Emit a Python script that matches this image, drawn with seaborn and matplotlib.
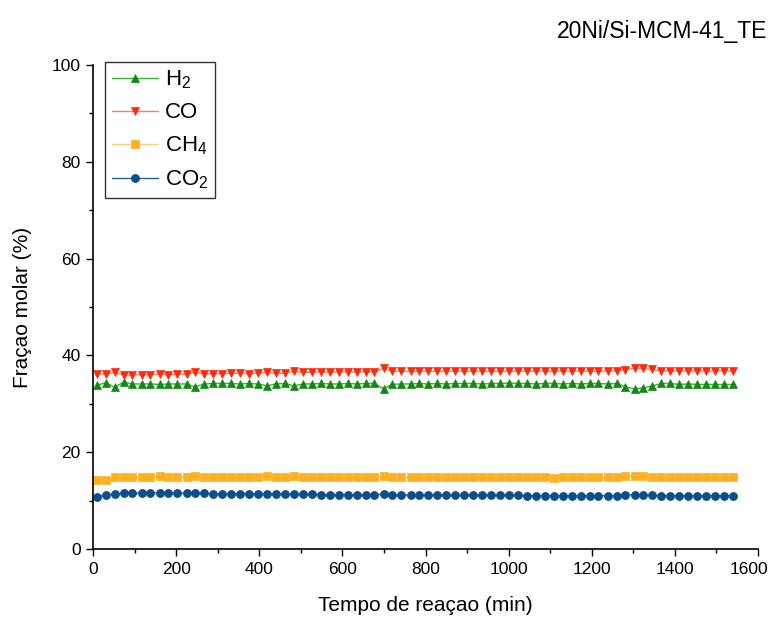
import numpy as np
import pandas as pd
import matplotlib
matplotlib.use("Agg")
import matplotlib.pyplot as plt
import matplotlib.transforms as mtransforms
import seaborn as sns

# ---- data ----
tempo = [9, 31, 52, 74, 95, 117, 138, 160, 181, 203, 225, 246, 268, 289, 311, 332,
         354, 376, 397, 419, 440, 462, 483, 505, 526, 548, 570, 591, 613, 634, 656, 677,
         699, 720, 742, 764, 785, 807, 828, 850, 871, 893, 915, 936, 958, 979, 1001, 1022,
         1044, 1065, 1087, 1109, 1130, 1152, 1173, 1195, 1216, 1238, 1260, 1281, 1303, 1324,
         1346, 1367, 1389, 1410, 1432, 1454, 1475, 1497, 1518, 1540]

h2 = [33.8, 34.4, 33.4, 34.5, 34.1, 34.1, 34.1, 34.0, 34.1, 34.1, 34.1, 33.5,
      34.1, 34.2, 34.2, 34.2, 34.1, 34.2, 34.1, 33.7, 34.1, 34.2, 33.7, 34.1,
      34.1, 34.2, 34.1, 34.1, 34.2, 34.1, 34.2, 34.2, 33.1, 34.0, 34.1, 34.1,
      34.2, 34.1, 34.2, 34.1, 34.2, 34.2, 34.2, 34.1, 34.2, 34.2, 34.3, 34.2,
      34.2, 34.1, 34.2, 34.2, 34.1, 34.2, 34.1, 34.2, 34.2, 34.1, 34.2, 33.5,
      33.1, 33.3, 33.7, 34.2, 34.2, 34.0, 34.1, 34.0, 34.0, 34.0, 34.0, 34.0]

co = [36.2, 36.1, 36.5, 35.9, 36.0, 36.0, 36.0, 36.1, 36.0, 36.1, 36.1, 36.5,
      36.2, 36.2, 36.2, 36.3, 36.3, 36.2, 36.3, 36.5, 36.3, 36.3, 36.7, 36.5,
      36.5, 36.6, 36.5, 36.6, 36.6, 36.6, 36.6, 36.6, 37.3, 36.7, 36.7, 36.7,
      36.7, 36.7, 36.7, 36.7, 36.7, 36.7, 36.7, 36.7, 36.7, 36.7, 36.7, 36.7,
      36.7, 36.8, 36.7, 36.7, 36.8, 36.7, 36.8, 36.7, 36.7, 36.8, 36.8, 37.0,
      37.4, 37.3, 37.1, 36.8, 36.8, 36.8, 36.8, 36.8, 36.8, 36.8, 36.8, 36.8]

ch4 = [14.2, 14.3, 14.8, 14.9, 14.9, 14.9, 14.9, 15.0, 14.9, 14.9, 14.9, 15.1,
       14.9, 14.9, 14.9, 14.9, 14.9, 14.9, 14.9, 15.1, 14.9, 14.9, 15.0, 14.9,
       14.8, 14.9, 14.9, 14.8, 14.9, 14.9, 14.8, 14.8, 15.1, 14.8, 14.8, 14.8,
       14.8, 14.8, 14.8, 14.8, 14.8, 14.8, 14.8, 14.8, 14.8, 14.8, 14.8, 14.8,
       14.8, 14.8, 14.8, 14.7, 14.8, 14.8, 14.8, 14.8, 14.8, 14.8, 14.8, 15.0,
       15.0, 15.0, 14.9, 14.8, 14.8, 14.8, 14.8, 14.8, 14.8, 14.8, 14.8, 14.8]

co2 = [10.8, 11.1, 11.4, 11.5, 11.5, 11.6, 11.6, 11.6, 11.6, 11.6, 11.5, 11.5,
       11.5, 11.4, 11.4, 11.4, 11.4, 11.4, 11.3, 11.3, 11.3, 11.3, 11.3, 11.3,
       11.3, 11.2, 11.2, 11.2, 11.2, 11.2, 11.2, 11.2, 11.3, 11.2, 11.2, 11.1,
       11.1, 11.1, 11.1, 11.1, 11.1, 11.1, 11.1, 11.1, 11.1, 11.1, 11.1, 11.1,
       11.0, 11.0, 11.0, 11.0, 11.0, 11.0, 11.0, 11.0, 11.0, 11.0, 11.0, 11.2,
       11.2, 11.2, 11.1, 11.0, 11.0, 11.0, 11.0, 11.0, 11.0, 11.0, 11.0, 11.0]

labels = ["H$_2$", "CO", "CH$_4$", "CO$_2$"]
title = "20Ni/Si-MCM-41_TE"
xlabel = "Tempo de reaçao (min)"
ylabel = "Fraçao molar (%)"

# ---- style ----
sns.set_style("ticks")
plt.rcParams["font.family"] = ["Liberation Sans", "DejaVu Sans"]
plt.rcParams["mathtext.default"] = "regular"
plt.rcParams["text.color"] = "black"
plt.rcParams["axes.labelcolor"] = "black"
plt.rcParams["mathtext.fontset"] = "custom"
plt.rcParams["mathtext.rm"] = "Liberation Sans"

fig = plt.figure(figsize=(7.7, 6.24), dpi=100)
ax = fig.add_axes([93 / 770, 1 - 549 / 624, 665 / 770, 484 / 624])

series = [
    (h2, "^", "#128a12", "#3cae3c"),
    (co, "v", "#ff2a0a", "#ff7a6a"),
    (ch4, "s", "#ffb020", "#ffd27a"),
    (co2, "o", "#0a4f8a", "#2a5f95"),
]

for (vals, mk, mcol, lcol), lab in zip(series, labels):
    df = pd.DataFrame({"t": tempo, "v": vals})
    sns.lineplot(data=df, x="t", y="v", ax=ax, color=lcol, linewidth=1.0,
                 marker=mk, markersize=5.8, markerfacecolor=mcol,
                 markeredgecolor=mcol, markeredgewidth=0.5, label=lab)

ax.set_xlim(0, 1600)
ax.set_ylim(0, 100)
ax.set_xticks(np.arange(0, 1601, 200))
ax.set_yticks(np.arange(0, 101, 20))
ax.set_xticks(np.arange(0, 1601, 100), minor=True)
ax.set_yticks(np.arange(0, 101, 10), minor=True)
ax.tick_params(axis="both", which="major", direction="out", length=5, width=1.0,
               labelsize=12.5, color="black", labelcolor="black", pad=4)
ax.tick_params(axis="both", which="minor", direction="out", length=3, width=1.0,
               color="black")
for s in ["top", "right"]:
    ax.spines[s].set_visible(False)
for s in ["left", "bottom"]:
    ax.spines[s].set_color("black")
    ax.spines[s].set_linewidth(1.2)

ax.set_xlabel(xlabel, fontsize=15, labelpad=14, color="black")
ax.set_ylabel(ylabel, fontsize=15, labelpad=14, color="black")
fig.text(0.997, 0.950, title, ha="right", va="center", fontsize=16.5, color="black")

leg = ax.legend(loc="upper left", bbox_to_anchor=(0.018, 1.006), fontsize=16,
                frameon=True, fancybox=False, edgecolor="black",
                handlelength=2.1, handletextpad=0.3, labelspacing=0.5,
                borderpad=0.3, borderaxespad=0.0)
leg.get_frame().set_linewidth(1.0)
for t in leg.get_texts():
    t.set_color("black")

# keep the last x tick label inside the canvas
fig.canvas.draw()
last_lbl = ax.get_xticklabels()[-1]
last_lbl.set_transform(last_lbl.get_transform() +
                       mtransforms.ScaledTranslation(-9 / 100, 0, fig.dpi_scale_trans))

fig.savefig("out.png", dpi=100)
